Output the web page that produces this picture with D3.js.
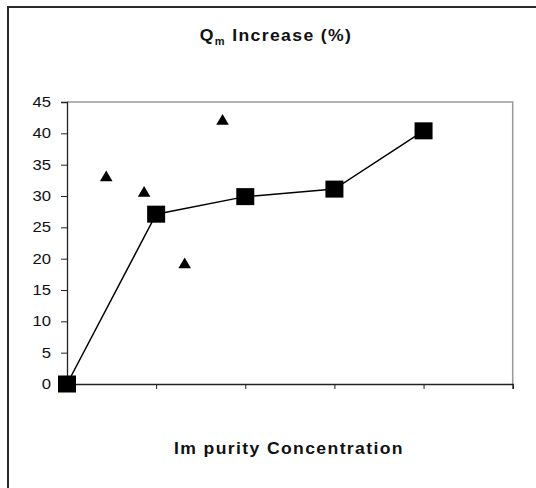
<!DOCTYPE html>
<html><head><meta charset="utf-8">
<script src="https://cdn.jsdelivr.net/npm/d3@7"></script>
<style>body{margin:0;background:#fff;overflow:hidden}svg{display:block}</style>
</head><body>
<script>
const squareX = [0, 1, 2, 3, 4];
const squareY = [0, 27.1, 29.9, 31.1, 40.4];
const triangleX = [0.44, 0.865, 1.32, 1.745];
const triangleY = [33.2, 30.7, 19.3, 42.2];
const yTicks = [0, 5, 10, 15, 20, 25, 30, 35, 40, 45];
const xTicks = [0, 1, 2, 3, 4, 5];
const titleMain = "Q";
const titleSub = "m";
const titleRest = " Increase (%)";
const xTitle = "Im purity Concentration";

const W = 536, H = 488;
const svg = d3.select("body").append("svg").attr("width", W).attr("height", H);
svg.append("rect").attr("width", W).attr("height", H).attr("fill", "#fff");
svg.append("path").attr("d", `M8,${H}V7H${W}`)
  .attr("fill", "none").attr("stroke", "#2a2a2a").attr("stroke-width", 2);

const pL = 67, pR = 512.7, pT = 102, pB = 384;
const x = d3.scaleLinear().domain([0, 5]).range([pL, pR]);
const y = d3.scaleLinear().domain([0, 45]).range([pB, pT]);

svg.append("path").attr("d", `M${pL},${pT}H${pR}V${pB}`)
  .attr("fill", "none").attr("stroke", "#999").attr("stroke-width", 1.5);

const yAxis = svg.append("g").attr("transform", `translate(${pL},0)`)
  .call(d3.axisLeft(y).tickValues(yTicks).tickSize(6));
yAxis.select(".domain").attr("stroke", "#222").attr("stroke-width", 1.3);
yAxis.selectAll(".tick line").attr("stroke", "#222");
yAxis.selectAll(".tick text").attr("font-family", "Liberation Sans, Arial, sans-serif")
  .attr("font-size", 14.5).attr("fill", "#111")
  .attr("transform", "translate(-16,0) scale(1.15,1)")
  .attr("x", 0);

const xAxis = svg.append("g").attr("transform", `translate(0,${pB})`)
  .call(d3.axisBottom(x).tickValues(xTicks).tickSize(5).tickFormat(""));
xAxis.select(".domain").attr("stroke", "#222").attr("stroke-width", 1.5);
xAxis.selectAll(".tick line").attr("stroke", "#222");

svg.append("path").datum(squareX.map((d, i) => [d, squareY[i]]))
  .attr("d", d3.line().x(d => x(d[0])).y(d => y(d[1])))
  .attr("fill", "none").attr("stroke", "#000").attr("stroke-width", 1.5);

svg.selectAll("rect.sq").data(squareX.map((d, i) => [d, squareY[i]])).join("rect")
  .attr("class", "sq")
  .attr("x", d => x(d[0]) - 9).attr("y", d => y(d[1]) - 8.5)
  .attr("width", 18).attr("height", 17).attr("fill", "#000");

svg.selectAll("path.tri").data(triangleX.map((d, i) => [d, triangleY[i]])).join("path")
  .attr("class", "tri")
  .attr("transform", d => `translate(${x(d[0])},${y(d[1])})`)
  .attr("d", "M0,-5.5L6.3,5.2L-6.3,5.2Z").attr("fill", "#000");

const t = svg.append("text")
  .attr("transform", "translate(276,40.5) scale(1.1,1)")
  .attr("text-anchor", "middle")
  .attr("font-family", "Liberation Sans, Arial, sans-serif").attr("font-weight", "bold")
  .attr("font-size", 16).attr("letter-spacing", 1.25).attr("fill", "#111");
t.append("tspan").text(titleMain);
t.append("tspan").attr("font-size", 10).attr("dy", 4.5).text(titleSub);
t.append("tspan").attr("dy", -4.5).text(titleRest);

svg.append("text").attr("transform", "translate(289,454) scale(1.1,1)")
  .attr("text-anchor", "middle")
  .attr("font-family", "Liberation Sans, Arial, sans-serif").attr("font-weight", "bold")
  .attr("font-size", 16).attr("letter-spacing", 1.25).attr("fill", "#111")
  .style("white-space", "pre")
  .text(xTitle);
</script>
</body></html>
